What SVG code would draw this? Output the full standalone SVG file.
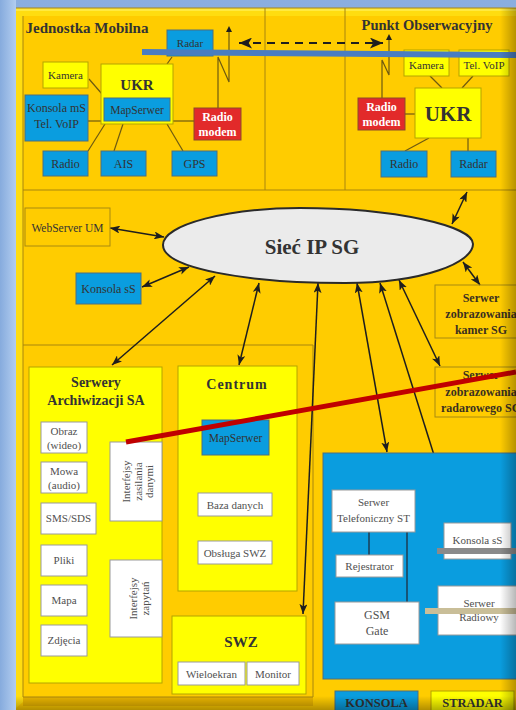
<svg xmlns="http://www.w3.org/2000/svg" width="516" height="710" viewBox="0 0 516 710">
<defs>
<linearGradient id="bgL" x1="0" y1="0" x2="1" y2="0"><stop offset="0" stop-color="#86ABDD"/><stop offset="1" stop-color="#B2CDF0"/></linearGradient>
<linearGradient id="bgT" x1="0" y1="0" x2="0" y2="1"><stop offset="0" stop-color="#8AAEDF"/><stop offset="1" stop-color="#AECAEF"/></linearGradient>
<linearGradient id="shR" x1="0" y1="0" x2="1" y2="0"><stop offset="0" stop-color="#000" stop-opacity="0"/><stop offset="1" stop-color="#000" stop-opacity="0.28"/></linearGradient>
<linearGradient id="shB" x1="0" y1="0" x2="0" y2="1"><stop offset="0" stop-color="#000" stop-opacity="0"/><stop offset="1" stop-color="#000" stop-opacity="0.3"/></linearGradient>
<marker id="ah" viewBox="0 0 10 8" refX="10" refY="4" markerUnits="userSpaceOnUse" markerWidth="10" markerHeight="8" orient="auto-start-reverse"><path d="M0,0 L10,4 L0,8 L2.5,4 z" fill="#1E1E1E"/></marker>
<marker id="ahB" viewBox="0 0 12 10" refX="12" refY="5" markerUnits="userSpaceOnUse" markerWidth="13" markerHeight="11" orient="auto-start-reverse"><path d="M0,0 L12,5 L0,10 L3,5 z" fill="#1E1E1E"/></marker>
<marker id="ahS" viewBox="0 0 8 8" refX="4" refY="8" markerUnits="userSpaceOnUse" markerWidth="6" markerHeight="7" orient="0"><path d="M0,8 L4,0 L8,8 z" fill="#1E1E1E"/></marker>
</defs>
<style>
text{font-family:"Liberation Serif","Times New Roman",serif;fill:#333;text-anchor:middle}
.b{font-weight:bold}
.s11{font-size:11px}
.s12{font-size:12px}
.yel{fill:#FFFF00;stroke:#B4A400;stroke-width:1}
.blu{fill:#0A9DDF;stroke:#4E6E7E;stroke-width:1}
.red{fill:#E22A2A;stroke:#8E4A2A;stroke-width:1}
.wht{fill:#FFFFFF;stroke:#9A9A9A;stroke-width:1}
.out{fill:none;stroke:#A88A10;stroke-width:1}
.sec{fill:none;stroke:#A8860E;stroke-width:1}
.ln{stroke:#6E5A10;stroke-width:1.2;fill:none}
.lnb{stroke:#1E2E3E;stroke-width:1.3;fill:none}
.arr{stroke:#1E1E1E;stroke-width:1.5;fill:none;marker-start:url(#ah);marker-end:url(#ah)}
.wt{fill:#FFFFFF}
.gt{fill:#505050}
.dt{fill:#3A3020}
</style>

<!-- background -->
<rect x="0" y="0" width="516" height="710" fill="url(#bgT)"/>
<rect x="0" y="0" width="16" height="710" fill="url(#bgL)"/>
<rect x="16" y="8" width="500" height="702" fill="#FFCC00"/>
<polygon points="16,8 516,8 516,16 23,16 23,702 16,708" fill="#FFDD10"/>
<rect x="16" y="8" width="500" height="3" fill="#FFEA40"/>
<rect x="23" y="697" width="290" height="9" fill="#E8B400"/>
<g id="sections">
<path class="sec" d="M23,16 V697 H313 V345 H23 M23,190 H516 M265,8 V190 M345,8 V190 M16,8 H516"/>
</g>

<!-- Jednostka Mobilna -->
<g id="jm-title"><text class="b" x="87" y="33" style="font-size:15px" fill="#3A3010">Jednostka Mobilna</text></g>
<g id="po-title"><text class="b" x="427" y="30" style="font-size:14.5px">Punkt Obserwacyjny</text></g>

<g id="connectors">
<!-- JM internal lines -->
<line class="ln" x1="89" y1="79" x2="102" y2="94"/>
<line class="ln" x1="172" y1="57" x2="167" y2="64"/>
<line class="ln" x1="88" y1="121" x2="101" y2="121"/>
<line class="ln" x1="173" y1="121" x2="194" y2="121"/>
<line class="ln" x1="88" y1="151" x2="105" y2="124"/>
<line class="ln" x1="114" y1="151" x2="123" y2="124"/>
<line class="ln" x1="183" y1="151" x2="167" y2="124"/>
<!-- JM antenna -->
<polyline class="ln" points="218,108 218,57 229,82 229,32" marker-end="url(#ahS)"/>
<!-- PO internal lines -->
<line class="ln" x1="430" y1="76" x2="442" y2="88"/>
<line class="ln" x1="473" y1="76" x2="462" y2="88"/>
<line class="ln" x1="405" y1="114" x2="415" y2="114"/>
<line class="ln" x1="429" y1="138" x2="405" y2="151"/>
<line class="ln" x1="468" y1="138" x2="468" y2="151"/>
<!-- PO antenna -->
<polyline class="ln" points="382,98 382,60 389,75 389,40" marker-end="url(#ahS)"/>
<!-- radio link -->
<line x1="239" y1="43" x2="383" y2="43" stroke="#1E1E1E" stroke-width="2" stroke-dasharray="8,6" marker-start="url(#ahB)" marker-end="url(#ahB)"/>
<!-- network arrows -->
<line class="arr" x1="110" y1="228" x2="164" y2="237"/>
<line class="arr" x1="142" y1="287" x2="189" y2="267"/>
<line class="arr" x1="112" y1="365" x2="215" y2="276"/>
<line class="arr" x1="239" y1="365" x2="259" y2="283"/>
<line class="arr" x1="303" y1="614" x2="318" y2="283"/>
<line class="arr" x1="387" y1="452" x2="357" y2="283"/>
<line class="arr" x1="455" y1="522" x2="380" y2="283"/>
<line class="arr" x1="440" y1="366" x2="399" y2="280"/>
<line class="arr" x1="480" y1="285" x2="463" y2="262"/>
<line class="arr" x1="467" y1="192" x2="452" y2="224"/>
</g>

<g id="radar-jm"><rect class="blu" x="167" y="30" width="46" height="26"/><text class="s11" x="190" y="47">Radar</text></g>
<g id="kamera-jm"><rect class="yel" x="43" y="62" width="45" height="26"/><text class="s11" x="65.5" y="79">Kamera</text></g>
<g id="ukr-jm"><rect class="yel" x="101" y="64" width="72" height="60"/><text class="b" x="137" y="90" style="font-size:15px">UKR</text></g>
<g id="mapserwer-jm"><rect class="blu" x="104" y="98" width="66" height="23"/><text x="137" y="114" style="font-size:11.5px">MapSerwer</text></g>
<g id="konsola-ms"><rect class="blu" x="25" y="95" width="63" height="46"/><text class="s12" x="56.5" y="112">Konsola mS</text><text class="s12" x="56.5" y="128">Tel. VoIP</text></g>
<g id="radiomodem-jm"><rect class="red" x="194" y="108" width="47" height="32"/><text class="b s12 wt" x="217.5" y="121">Radio</text><text class="b s12 wt" x="217.5" y="136">modem</text></g>
<g id="radio-jm"><rect class="blu" x="43" y="151" width="45" height="25"/><text class="s12" x="65.5" y="168">Radio</text></g>
<g id="ais-jm"><rect class="blu" x="101" y="151" width="45" height="25"/><text class="s12" x="123.5" y="168">AIS</text></g>
<g id="gps-jm"><rect class="blu" x="172" y="151" width="45" height="25"/><text class="s12" x="194.5" y="168">GPS</text></g>

<g id="kamera-po"><rect class="yel" x="404" y="50" width="45" height="26"/><text class="s11" x="426.5" y="69">Kamera</text></g>
<g id="telvoip-po"><rect class="yel" x="459" y="50" width="50" height="26"/><text class="s11" x="484" y="69">Tel. VoIP</text></g>
<g id="blue-bar"><polygon points="142,49 516,52 516,58 142,55" fill="#4A7DC0"/></g>
<g id="ukr-po"><rect class="yel" x="415" y="88" width="66" height="50"/><text class="b" x="448" y="121" style="font-size:21px">UKR</text></g>
<g id="radiomodem-po"><rect class="red" x="358" y="98" width="47" height="32"/><text class="b s12 wt" x="381.5" y="111">Radio</text><text class="b s12 wt" x="381.5" y="126">modem</text></g>
<g id="radio-po"><rect class="blu" x="381" y="151" width="46" height="26"/><text class="s12" x="404" y="168">Radio</text></g>
<g id="radar-po"><rect class="blu" x="451" y="151" width="45" height="26"/><text class="s12" x="473.5" y="168">Radar</text></g>

<!-- middle -->
<g id="webserver-um"><rect class="out" x="25" y="208" width="85" height="38"/><text x="67.5" y="232" style="font-size:11.5px" fill="#3A3020">WebServer UM</text></g>
<g id="konsola-ss"><rect class="blu" x="76" y="273" width="65" height="31"/><text class="s12" x="108.5" y="293">Konsola sS</text></g>
<g id="siec-ip-sg"><path d="M163,245 C163,224 230,208 300,208 C395,208 473,226 473,244 C473,262 425,283 345,283 C245,283 163,268 163,245 Z" fill="#EBEBEB" stroke="#2A2A2A" stroke-width="2"/><text class="b" x="312" y="254" style="font-size:21px">Sieć IP SG</text></g>
<g id="serwer-kamer-sg"><rect class="out" x="435" y="285" width="90" height="53"/><text class="b s12 dt" x="481" y="302">Serwer</text><text class="b s12 dt" x="481" y="318">zobrazowania</text><text class="b s12 dt" x="481" y="334">kamer SG</text></g>
<g id="serwer-radar-sg"><rect class="out" x="435" y="367" width="90" height="50"/><text class="b s12 dt" x="481" y="379">Serwer</text><text class="b s12 dt" x="481" y="396">zobrazowania</text><text class="b s12 dt" x="481" y="412">radarowego SG</text></g>

<!-- Serwery Archiwizacji -->
<g id="serwery-archiwizacji"><rect class="yel" x="29" y="367" width="133" height="316"/><text class="b" x="96" y="387" style="font-size:14px" fill="#3A3010">Serwery</text><text class="b" x="96" y="405" style="font-size:14px" fill="#3A3010">Archiwizacji SA</text></g>
<g id="obraz"><rect class="wht" x="41" y="422" width="46" height="31"/><text class="s11 gt" x="64" y="435">Obraz</text><text class="s11 gt" x="64" y="449">(wideo)</text></g>
<g id="mowa"><rect class="wht" x="41" y="462" width="46" height="31"/><text class="s11 gt" x="64" y="475">Mowa</text><text class="s11 gt" x="64" y="489">(audio)</text></g>
<g id="sms-sds"><rect class="wht" x="41" y="503" width="55" height="31"/><text class="s11 gt" x="68.5" y="522">SMS/SDS</text></g>
<g id="pliki"><rect class="wht" x="41" y="545" width="46" height="31"/><text class="s11 gt" x="64" y="564">Pliki</text></g>
<g id="mapa"><rect class="wht" x="41" y="585" width="46" height="31"/><text class="s11 gt" x="64" y="604">Mapa</text></g>
<g id="zdjecia"><rect class="wht" x="41" y="625" width="46" height="31"/><text class="s11 gt" x="64" y="644">Zdjęcia</text></g>
<g id="interfejsy-zasilania"><rect class="wht" x="110" y="442" width="52" height="79"/><g transform="translate(136,481.5) rotate(-90)"><text class="s11 gt" x="0" y="-6">Interfejsy</text><text class="s11 gt" x="0" y="5.5">zasilania</text><text class="s11 gt" x="0" y="17">danymi</text></g></g>
<g id="interfejsy-zapytan"><rect class="wht" x="110" y="560" width="52" height="77"/><g transform="translate(136,598.5) rotate(-90)"><text class="s11 gt" x="0" y="1">Interfejsy</text><text class="s11 gt" x="0" y="12.5">zapytań</text></g></g>

<!-- Centrum -->
<g id="centrum"><rect class="yel" x="178" y="366" width="119" height="225"/><text class="b" x="237" y="389" style="font-size:14px;letter-spacing:1px" fill="#3A3010">Centrum</text></g>
<g id="mapserwer-c"><rect class="blu" x="202" y="420" width="67" height="35"/><text x="235.5" y="442" style="font-size:11.5px">MapSerwer</text></g>
<g id="baza-danych"><rect class="wht" x="198" y="493" width="74" height="23"/><text class="s11 gt" x="235" y="509">Baza danych</text></g>
<g id="obsluga-swz"><rect class="wht" x="198" y="541" width="74" height="23"/><text class="s11 gt" x="235" y="557">Obsługa SWZ</text></g>

<!-- SWZ -->
<g id="swz"><rect class="yel" x="172" y="616" width="134" height="78"/><text class="b" x="241" y="647" style="font-size:15px" fill="#3A3010">SWZ</text></g>
<g id="wieloekran"><rect class="wht" x="178" y="662" width="67" height="23"/><text class="s11 gt" x="211.5" y="678">Wieloekran</text></g>
<g id="monitor"><rect class="wht" x="247" y="662" width="52" height="23"/><text class="s11 gt" x="273" y="678">Monitor</text></g>

<!-- blue block -->
<g id="blok-telefoniczny"><rect class="blu" x="323" y="453" width="200" height="226"/></g>
<g id="blok-lines"><line class="lnb" x1="369" y1="532" x2="369" y2="555"/><line class="lnb" x1="407" y1="532" x2="407" y2="602"/></g>
<g id="serwer-telefoniczny"><rect class="wht" x="332" y="490" width="83" height="42"/><text class="s11 gt" x="373.5" y="506">Serwer</text><text class="s11 gt" x="373.5" y="522">Telefoniczny ST</text></g>
<g id="rejestrator"><rect class="wht" x="336" y="555" width="67" height="22"/><text class="s11 gt" x="369.5" y="570">Rejestrator</text></g>
<g id="gsm-gate"><rect class="wht" x="335" y="602" width="84" height="42"/><text class="s12 gt" x="377" y="619">GSM</text><text class="s12 gt" x="377" y="635">Gate</text></g>
<g id="konsola-ss-2"><rect class="wht" x="444" y="523" width="67" height="36"/><text class="s11 gt" x="477.5" y="544">Konsola sS</text></g>
<g id="serwer-radiowy"><rect class="wht" x="438" y="586" width="85" height="49"/><text class="s11 gt" x="479" y="607">Serwer</text><text class="s11 gt" x="479" y="621">Radiowy</text></g>
<g id="bars"><rect x="437" y="548" width="79" height="6" fill="#8A8A8A"/><rect x="425" y="608" width="91" height="6" fill="#C9BE98"/></g>

<!-- red line -->
<g id="red-line"><line x1="126" y1="442" x2="516" y2="372" stroke="#C00000" stroke-width="5"/></g>

<!-- bottom -->
<g id="konsola-bottom"><rect class="blu" x="335" y="691" width="83" height="25"/><text class="b" x="376.5" y="707" style="font-size:12.5px" fill="#2A2A2A">KONSOLA</text></g>
<g id="stradar"><rect class="yel" x="431" y="691" width="83" height="25"/><text class="b" x="472.5" y="707" style="font-size:12.5px" fill="#2A2A2A">STRADAR</text></g>

<rect x="500" y="8" width="16" height="702" fill="url(#shR)"/>
<rect x="16" y="696" width="500" height="14" fill="url(#shB)"/>
</svg>
